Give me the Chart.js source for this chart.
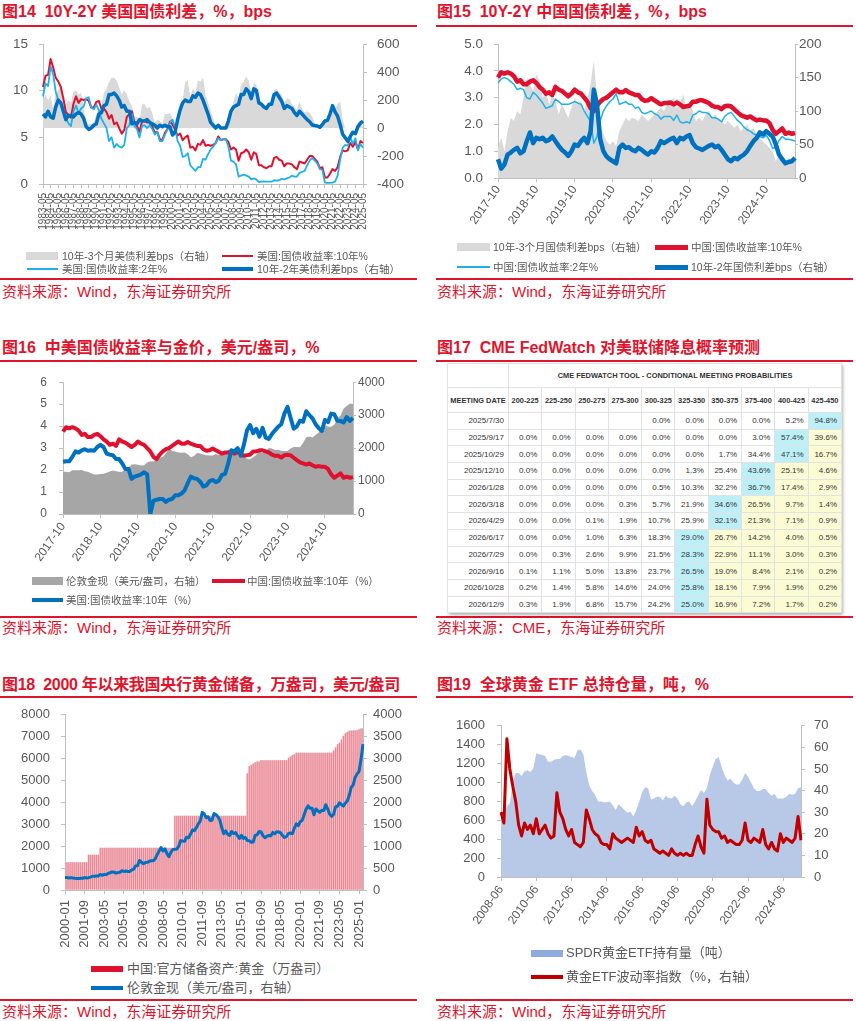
<!DOCTYPE html>
<html>
<head>
<meta charset="utf-8">
<script src="https://cdn.jsdelivr.net/npm/chart.js@4.4.1/dist/chart.umd.min.js"></script>
<style>
body { margin:0; background:#fff; width:856px; height:1021px; position:relative; overflow:hidden;
  font-family:"Liberation Sans", Arial, "Noto Sans CJK SC", sans-serif; }
.title { position:absolute; font-weight:bold; color:#e1142d; font-size:16px; line-height:16px; white-space:pre; }
.rule { position:absolute; height:2px; background:#e1142d; }
.src { position:absolute; color:#e1142d; font-size:15px; line-height:15px; white-space:nowrap; }
canvas { position:absolute; }
.lg { position:absolute; font-size:10.5px; line-height:12px; color:#595959; white-space:nowrap; }
.lg.big { font-size:13px; line-height:14px; }
.sw { position:absolute; }
#fw { position:absolute; left:447px; top:363px; width:394px; box-shadow:2px 2px 3px rgba(0,0,0,0.3); background:#fff; }
#fw table { border-collapse:collapse; table-layout:fixed; width:394px; color:#333; }
#fw td { border:1px solid #e2e2e2; padding:0 4px 0 0; text-align:right; font-size:8px; height:15.7px; white-space:nowrap; overflow:hidden; }
#fw td.h { font-weight:bold; text-align:center; font-size:7.4px; padding:0; }
#fw td.blue { background:#bdeff9; }
#fw td.yel { background:#fbfbd4; }
</style>
</head>
<body>

<div class="title" style="left:2px;top:4px">图14  10Y-2Y 美国国债利差，%，bps</div>
<div class="rule" style="left:0;top:25px;width:417px"></div>
<div class="title" style="left:437px;top:4px">图15  10Y-2Y 中国国债利差，%，bps</div>
<div class="rule" style="left:436px;top:25px;width:417px"></div>
<div class="rule" style="left:0;top:278px;width:417px"></div>
<div class="rule" style="left:436px;top:278px;width:417px"></div>
<div class="src" style="left:2px;top:284px">资料来源：Wind，东海证券研究所</div>
<div class="src" style="left:437px;top:284px">资料来源：Wind，东海证券研究所</div>

<div class="title" style="left:2px;top:340px">图16  中美国债收益率与金价，美元/盎司，%</div>
<div class="rule" style="left:0;top:360px;width:417px"></div>
<div class="title" style="left:437px;top:340px">图17  CME FedWatch 对美联储降息概率预测</div>
<div class="rule" style="left:436px;top:360px;width:417px"></div>
<div class="rule" style="left:0;top:616px;width:417px"></div>
<div class="rule" style="left:436px;top:616px;width:417px"></div>
<div class="src" style="left:2px;top:620px">资料来源：Wind，东海证券研究所</div>
<div class="src" style="left:437px;top:620px">资料来源：CME，东海证券研究所</div>

<div class="title" style="left:2px;top:677px;letter-spacing:-0.3px">图18  2000 年以来我国央行黄金储备，万盎司，美元/盎司</div>
<div class="rule" style="left:0;top:696px;width:417px"></div>
<div class="title" style="left:437px;top:677px">图19  全球黄金 ETF 总持仓量，吨，%</div>
<div class="rule" style="left:436px;top:696px;width:417px"></div>
<div class="rule" style="left:0;top:999px;width:417px"></div>
<div class="rule" style="left:436px;top:999px;width:417px"></div>
<div class="src" style="left:2px;top:1004px">资料来源：Wind，东海证券研究所</div>
<div class="src" style="left:437px;top:1004px">资料来源：Wind，东海证券研究所</div>

<canvas id="c14" width="405" height="222" style="left:0;top:25px;width:405px;height:222px"></canvas>
<canvas id="c15" width="400" height="215" style="left:437px;top:25px;width:400px;height:215px"></canvas>
<canvas id="c16" width="400" height="215" style="left:0;top:363px;width:400px;height:215px"></canvas>
<canvas id="c18" width="410" height="260" style="left:0;top:696px;width:410px;height:260px"></canvas>
<canvas id="c19" width="410" height="240" style="left:437px;top:706px;width:410px;height:240px"></canvas>

<div id="fw"></div>

<!-- legends -->
<div class="sw" style="left:26px;top:252px;width:32px;height:8px;background:#d9d9d9"></div>
<div class="lg" style="left:62px;top:250px">10年-3个月美债利差bps（右轴）</div>
<div class="sw" style="left:222px;top:255px;width:31px;height:2px;background:#e0102f"></div>
<div class="lg" style="left:257px;top:250px">美国:国债收益率:10年%</div>
<div class="sw" style="left:27px;top:268px;width:31px;height:1.5px;background:#1fb1ec"></div>
<div class="lg" style="left:62px;top:263px">美国:国债收益率:2年%</div>
<div class="sw" style="left:222px;top:267px;width:31px;height:4px;background:#0070c0"></div>
<div class="lg" style="left:257px;top:263px">10年-2年美债利差bps（右轴）</div>

<div class="sw" style="left:457px;top:243px;width:33px;height:8px;background:#d9d9d9"></div>
<div class="lg" style="left:493px;top:241px">10年-3个月国债利差bps（右轴）</div>
<div class="sw" style="left:655px;top:244.5px;width:33px;height:5px;background:#e0102f"></div>
<div class="lg" style="left:691px;top:241px">中国:国债收益率:10年%</div>
<div class="sw" style="left:457px;top:266px;width:33px;height:1.5px;background:#1fb1ec"></div>
<div class="lg" style="left:493px;top:261px">中国:国债收益率:2年%</div>
<div class="sw" style="left:655px;top:264.5px;width:33px;height:5px;background:#0070c0"></div>
<div class="lg" style="left:691px;top:261px">10年-2年国债利差bps（右轴）</div>

<div class="sw" style="left:32px;top:577px;width:31px;height:8px;background:#a6a6a6"></div>
<div class="lg" style="left:66px;top:575px">伦敦金现（美元/盎司，右轴）</div>
<div class="sw" style="left:212px;top:578.5px;width:33px;height:4.5px;background:#e0102f"></div>
<div class="lg" style="left:247px;top:575px">中国:国债收益率:10年（%）</div>
<div class="sw" style="left:32px;top:597.5px;width:31px;height:4.5px;background:#0070c0"></div>
<div class="lg" style="left:66px;top:594px">美国:国债收益率:10年（%）</div>

<div class="sw" style="left:91px;top:966px;width:32px;height:6px;background:#e0102f"></div>
<div class="lg big" style="left:127px;top:962px">中国:官方储备资产:黄金（万盎司）</div>
<div class="sw" style="left:91px;top:986px;width:32px;height:4px;background:#0070c0"></div>
<div class="lg big" style="left:127px;top:981px">伦敦金现（美元/盎司，右轴）</div>

<div class="sw" style="left:531px;top:949.5px;width:32px;height:7px;background:#8faadc"></div>
<div class="lg big" style="left:566px;top:946px">SPDR黄金ETF持有量（吨）</div>
<div class="sw" style="left:531px;top:975px;width:32px;height:4px;background:#c00000"></div>
<div class="lg big" style="left:566px;top:970px">黄金ETF波动率指数（%，右轴）</div>

<script>
// ---------- 图14 data: every 4 months from 1983-05 ----------
var us10y = [
  10.4, 11.6,
  11.7, 13.4, 12.5,  11.4, 11.0, 10.4,  9.2, 7.7, 7.4,  7.1, 8.6, 9.4,  8.7, 9.1, 9.0,
  9.1, 8.9, 8.2,  8.2, 8.8, 8.9,  8.1, 8.1, 7.7,  7.0, 7.4, 6.4,  6.6, 6.0, 5.4,
  5.8, 7.2, 7.5,  7.8, 6.6, 6.2,  5.6, 6.7, 6.8,  6.6, 6.7, 6.2,  5.5, 5.6, 4.8,
  4.7, 5.5, 5.9,  6.7, 6.4, 5.8,  5.2, 5.4, 4.7,  5.0, 5.2, 3.9,  4.0, 3.6, 4.3,
  4.2, 4.7, 4.1,  4.2, 4.1, 4.2,  4.4, 5.1, 4.7,  4.8, 4.8, 4.5,  3.7, 3.9, 3.7,
  2.5, 3.3, 3.4,  3.7, 3.4, 2.6,  3.4, 3.2, 2.0,  2.0, 1.8, 1.7,  1.9, 1.9, 2.8,
  2.9, 2.6, 2.5,  1.9, 2.2, 2.2,  2.1, 1.8, 1.6,  2.4, 2.3, 2.2,  2.6, 3.0, 3.0,
  2.7, 2.4, 1.7,  1.8, 0.7, 0.7,  1.1, 1.6, 1.4,  1.8, 2.9, 3.6,  3.5, 3.6, 4.4,
  4.0, 4.5, 3.7,  4.6, 4.4
];
var us2y = [
  9.4, 10.8,
  10.5, 12.6, 11.8,  9.9, 9.0, 8.6,  8.0, 7.1, 6.5,  6.2, 7.8, 8.4,  7.6, 8.1, 8.3,
  9.2, 9.3, 8.2,  8.0, 8.5, 7.9,  7.0, 6.5, 6.0,  4.6, 5.0, 3.9,  4.3, 4.0, 3.9,
  4.2, 6.0, 6.3,  7.5, 6.2, 5.9,  5.0, 6.2, 6.3,  6.0, 6.3, 5.9,  5.3, 5.6, 4.6,
  4.6, 5.3, 5.8,  6.6, 6.9, 6.1,  4.6, 4.1, 2.9,  3.0, 3.3, 2.0,  1.7, 1.4, 1.8,
  1.8, 2.7, 2.6,  3.2, 3.7, 4.0,  4.4, 4.9, 4.7,  4.8, 4.8, 4.0,  2.5, 2.4, 2.1,
  0.8, 0.9, 1.0,  0.9, 0.8, 0.5,  0.6, 0.5, 0.2,  0.25, 0.28, 0.26,  0.26, 0.25, 0.4,
  0.37, 0.4, 0.55,  0.5, 0.6, 0.7,  0.9, 0.8, 0.8,  1.2, 1.3, 1.4,  2.0, 2.5, 2.8,
  2.5, 2.2, 1.6,  1.5, 0.16, 0.13,  0.12, 0.15, 0.25,  0.9, 2.6, 3.9,  4.2, 4.1, 5.0,
  4.3, 4.9, 3.6,  4.3, 3.9
];
var us10y2ySpread = [
  100, 80,
  120, 80, 70,  150, 200, 180,  120, 60, 90,  90, 80, 100,  110, 100, 70,
  10, -10, 0,  20, 30, 100,  110, 160, 170,  240, 240, 250,  230, 200, 150,
  160, 120, 120,  30, 40, 30,  60, 50, 50,  60, 40, 30,  20, 0, 20,
  10, 20, 10,  10, -50, -30,  60, 130, 180,  200, 190, 190,  230, 220, 250,
  240, 200, 150,  100, 40, 20,  0, 20, 0,  0, 0, 50,  120, 150, 160,
  170, 240, 240,  280, 260, 210,  280, 270, 180,  170, 150, 140,  170, 170, 240,
  250, 220, 190,  140, 160, 150,  140, 110, 90,  120, 100, 80,  60, 45, 22,
  18, 15, 5,  25, 50, 55,  100, 160, 115,  85, 25, -45,  -70, -95, -60,
  -30, -40, 10,  35, 50
];
var us10y3mSpread = [
  200, 240,
  200, 230, 140,  250, 270, 300,  200, 170, 200,  180, 260, 270,  240, 250, 140,
  40, 30, 30,  40, 100, 130,  160, 250, 280,  330, 360, 360,  340, 290, 240,
  270, 240, 190,  160, 80, 80,  60, 170, 170,  140, 150, 110,  40, 60, 50,
  30, 100, 100,  110, 70, 0,  20, 170, 200,  330, 340, 220,  280, 250, 340,
  330, 360, 240,  180, 120, 70,  0, 20, 0,  0, 0, 60,  80, 190, 250,
  220, 310, 330,  370, 340, 250,  320, 310, 200,  190, 170, 160,  180, 180, 270,
  280, 250, 240,  180, 210, 210,  170, 150, 130,  190, 140, 110,  120, 110, 80,
  30, 0, 0,  30, 60, 60,  110, 160, 140,  170, 190, 60,  0, 0, 0,
  0, 0, 0,  40, 10
];

// ---------- 图15 / 图16 data: monthly from 2017-10 ----------
var cn10y = [
  3.75, 3.95, 3.9,
  3.95, 3.9, 3.8, 3.6, 3.65, 3.5, 3.5, 3.6, 3.65, 3.55, 3.4, 3.3,
  3.15, 3.2, 3.1, 3.4, 3.3, 3.25, 3.15, 3.05, 3.15, 3.3, 3.2, 3.15,
  3.0, 2.85, 2.6, 2.5, 2.7, 2.85, 2.95, 3.0, 3.1, 3.2, 3.3, 3.2,
  3.2, 3.28, 3.2, 3.15, 3.1, 3.1, 2.95, 2.88, 2.9, 2.98, 2.9, 2.82,
  2.75, 2.8, 2.8, 2.82, 2.75, 2.82, 2.75, 2.65, 2.68, 2.7, 2.85, 2.85,
  2.9, 2.9, 2.85, 2.8, 2.7, 2.65, 2.65, 2.57, 2.68, 2.7, 2.67, 2.56,
  2.45, 2.35, 2.3, 2.25, 2.3, 2.22, 2.15, 2.18, 2.15, 2.15, 2.05, 1.8,
  1.65, 1.75, 1.85, 1.65, 1.7, 1.65, 1.68
];
var cn2y = [
  3.55, 3.7, 3.75,
  3.7, 3.6, 3.5, 3.3, 3.35, 3.3, 3.0, 2.95, 3.2, 3.1, 2.95, 2.8,
  2.6, 2.65, 2.7, 2.95, 2.85, 2.75, 2.75, 2.75, 2.8, 2.85, 2.8, 2.75,
  2.5, 2.3, 2.1, 1.3, 1.55, 2.15, 2.5, 2.7, 2.85, 2.95, 3.15, 2.75,
  2.8, 2.85, 2.75, 2.75, 2.6, 2.65, 2.45, 2.4, 2.45, 2.5, 2.4, 2.35,
  2.2, 2.3, 2.3, 2.3, 2.15, 2.35, 2.1, 2.05, 2.1, 2.05, 2.35, 2.4,
  2.5, 2.45, 2.45, 2.4, 2.25, 2.25, 2.2, 2.1, 2.3, 2.4, 2.45, 2.3,
  2.15, 2.05, 1.9, 1.8, 1.75, 1.65, 1.6, 1.55, 1.5, 1.6, 1.4, 1.1,
  1.15, 1.4, 1.55, 1.45, 1.45, 1.42, 1.38
];
var cn10y2ySpread = [
  28, 14, 20,
  35, 38, 42, 45, 37, 40, 55, 68, 52, 60, 58, 60,
  55, 57, 62, 55, 48, 42, 38, 33, 40, 50, 48, 55,
  60, 52, 70, 132, 110, 58, 40, 32, 28, 25, 22, 45,
  50, 45, 46, 42, 40, 45, 42, 38, 35, 40, 38, 45,
  55, 52, 55, 58, 60, 52, 60, 58, 62, 64, 52, 46,
  44, 42, 45, 48, 50, 46, 48, 42, 35, 28, 25, 30,
  28, 32, 35, 40, 48, 55, 60, 68, 65, 70, 66, 62,
  50, 35, 28, 22, 24, 25, 30
];
var cn10y3mSpread = [
  45, 60, 40,
  70, 90, 85, 100, 95, 120, 150, 140, 130, 155, 145, 120,
  130, 110, 125, 115, 95, 110, 100, 90, 105, 120, 110, 115,
  100, 120, 140, 175, 120, 80, 65, 55, 50, 55, 48, 70,
  80, 90, 85, 90, 88, 85, 95, 90, 85, 90, 95, 100,
  105, 100, 110, 115, 120, 105, 110, 125, 105, 110, 100, 85,
  90, 85, 95, 100, 90, 95, 88, 85, 80, 85, 80, 75,
  80, 70, 75, 80, 70, 75, 65, 60, 55, 50, 45, 40,
  25, 35, 30, 20, 30, 28, 30
];
var us10yM = [
  2.38, 2.4, 2.4,
  2.6, 2.85, 2.8, 2.9, 2.95, 2.88, 2.9, 2.88, 3.05, 3.15, 3.05, 2.75,
  2.7, 2.68, 2.5, 2.5, 2.3, 2.05, 2.05, 1.6, 1.7, 1.75, 1.8, 1.9,
  1.8, 0, 0.6, 0.65, 0.68, 0.68, 0.55, 0.65, 0.68, 0.85, 0.85, 0.93,
  1.08, 1.4, 1.7, 1.63, 1.6, 1.47, 1.25, 1.3, 1.5, 1.55, 1.45, 1.52,
  1.78, 1.83, 2.32, 2.9, 2.85, 3.0, 2.65, 3.15, 3.8, 4.05, 3.68, 3.88,
  3.52, 3.92, 3.48, 3.42, 3.64, 3.81, 3.97, 4.09, 4.57, 4.88, 4.37, 3.88,
  3.99, 4.25, 4.2, 4.68, 4.5, 4.36, 4.09, 3.91, 3.78, 4.28, 4.18, 4.57,
  4.54, 4.24, 4.23, 4.17, 4.41, 4.24, 4.37
];
var goldM = [
  1280, 1280, 1265,
  1330, 1330, 1325, 1335, 1300, 1280, 1240, 1200, 1195, 1215, 1220, 1250,
  1290, 1320, 1300, 1285, 1285, 1360, 1415, 1500, 1510, 1495, 1470, 1480,
  1560, 1600, 1590, 1680, 1715, 1730, 1840, 1970, 1920, 1900, 1865, 1860,
  1865, 1810, 1720, 1760, 1850, 1835, 1805, 1785, 1775, 1775, 1820, 1790,
  1815, 1855, 1950, 1940, 1850, 1835, 1730, 1765, 1680, 1665, 1725, 1800,
  1900, 1855, 1910, 2000, 1990, 1940, 1950, 1920, 1915, 1915, 1985, 2030,
  2035, 2025, 2160, 2330, 2350, 2325, 2400, 2470, 2570, 2690, 2650, 2650,
  2710, 2900, 2980, 3200, 3280, 3350, 3340
];

// ---------- 图17 data ----------
var meetingDates = ['2025/7/30','2025/9/17','2025/10/29','2025/12/10','2026/1/28','2026/3/18',
  '2026/4/29','2026/6/17','2026/7/29','2026/9/16','2026/10/28','2026/12/9'];
var rateBuckets = ['200-225','225-250','250-275','275-300','300-325','325-350','350-375','375-400','400-425','425-450'];
var fedProbs = [
  [null, null, null, null, 0.0, 0.0, 0.0, 0.0, 5.2, 94.8],
  [0.0, 0.0, 0.0, 0.0, 0.0, 0.0, 0.0, 3.0, 57.4, 39.6],
  [0.0, 0.0, 0.0, 0.0, 0.0, 0.0, 1.7, 34.4, 47.1, 16.7],
  [0.0, 0.0, 0.0, 0.0, 0.0, 1.3, 25.4, 43.6, 25.1, 4.6],
  [0.0, 0.0, 0.0, 0.0, 0.5, 10.3, 32.2, 36.7, 17.4, 2.9],
  [0.0, 0.0, 0.0, 0.3, 5.7, 21.9, 34.6, 26.5, 9.7, 1.4],
  [0.0, 0.0, 0.1, 1.9, 10.7, 25.9, 32.1, 21.3, 7.1, 0.9],
  [0.0, 0.0, 1.0, 6.3, 18.3, 29.0, 26.7, 14.2, 4.0, 0.5],
  [0.0, 0.3, 2.6, 9.9, 21.5, 28.3, 22.9, 11.1, 3.0, 0.3],
  [0.1, 1.1, 5.0, 13.8, 23.7, 26.5, 19.0, 8.4, 2.1, 0.2],
  [0.2, 1.4, 5.8, 14.6, 24.0, 25.8, 18.1, 7.9, 1.9, 0.2],
  [0.3, 1.9, 6.8, 15.7, 24.2, 25.0, 16.9, 7.2, 1.7, 0.2]
];

// ---------- 图18 data: every 2 months from 2000-01 ----------
var cnGoldReserve = [
  1267, 1267, 1267, 1267, 1267, 1267,
  1267, 1267, 1267, 1267, 1267, 1267,
  1608, 1608, 1608, 1608, 1608, 1608,
  1929, 1929, 1929, 1929, 1929, 1929,
  1929, 1929, 1929, 1929, 1929, 1929,
  1929, 1929, 1929, 1929, 1929, 1929,
  1929, 1929, 1929, 1929, 1929, 1929,
  1929, 1929, 1929, 1929, 1929, 1929,
  1929, 1929, 1929, 1929, 1929, 1929,
  1929, 1929, 3389, 3389, 3389, 3389,
  3389, 3389, 3389, 3389, 3389, 3389,
  3389, 3389, 3389, 3389, 3389, 3389,
  3389, 3389, 3389, 3389, 3389, 3389,
  3389, 3389, 3389, 3389, 3389, 3389,
  3389, 3389, 3389, 3389, 3389, 3389,
  3389, 3389, 3389, 5332, 5666, 5722,
  5778, 5828, 5862, 5862, 5924, 5924,
  5924, 5924, 5924, 5924, 5924, 5924,
  5924, 5924, 5924, 5924, 5924, 5924,
  6036, 6092, 6161, 6194, 6264, 6264,
  6264, 6264, 6264, 6264, 6264, 6264,
  6264, 6264, 6264, 6264, 6264, 6264,
  6264, 6264, 6264, 6264, 6264, 6367,
  6512, 6650, 6727, 6869, 7046, 7158,
  7219, 7274, 7280, 7280, 7280, 7296,
  7345, 7370, 7383
];
var londonGold = [
  285, 285, 275, 282, 273, 266,
  265, 263, 268, 267, 283, 276,
  282, 294, 314, 313, 319, 319,
  356, 336, 355, 351, 378, 393,
  414, 407, 384, 398, 405, 439,
  424, 434, 422, 424, 456, 476,
  549, 557, 675, 633, 598, 628,
  631, 655, 667, 665, 712, 806,
  889, 968, 889, 939, 829, 760,
  858, 924, 928, 934, 996, 1128,
  1117, 1113, 1205, 1193, 1271, 1370,
  1356, 1424, 1510, 1572, 1772, 1739,
  1652, 1673, 1587, 1594, 1744, 1722,
  1670, 1593, 1414, 1286, 1349, 1275,
  1244, 1337, 1288, 1311, 1239, 1176,
  1251, 1179, 1199, 1130, 1125, 1087,
  1097, 1246, 1260, 1337, 1326, 1238,
  1192, 1231, 1246, 1236, 1314, 1282,
  1331, 1325, 1303, 1239, 1198, 1221,
  1291, 1300, 1284, 1414, 1511, 1470,
  1560, 1591, 1716, 1847, 1921, 1866,
  1867, 1718, 1850, 1807, 1775, 1821,
  1817, 1948, 1848, 1732, 1681, 1726,
  1898, 1912, 1992, 1951, 1916, 1985,
  2034, 2163, 2348, 2399, 2571, 2651,
  2709, 2983, 3330
];

// ---------- 图19 data: every 2 months from 2008-06 ----------
var spdrHolding = [
  700, 680, 750, 780,
  1000, 1100, 1100, 1070, 1120, 1130,
  1110, 1150, 1310, 1300, 1290, 1280,
  1220, 1220, 1240, 1250, 1250, 1280,
  1290, 1280, 1270, 1260, 1340, 1350,
  1300, 1110, 970, 910, 870, 800,
  800, 790, 790, 800, 760, 710,
  770, 740, 710, 680, 690, 640,
  710, 800, 900, 950, 940, 820,
  830, 850, 850, 810, 860, 835,
  830, 860, 830, 770, 750, 790,
  800, 750, 800, 860, 920, 890,
  940, 1080, 1170, 1250, 1270, 1170,
  1080, 1020, 1040, 1000, 980, 980,
  1030, 1100, 1060, 1000, 940, 910,
  910, 930, 930, 890, 860, 880,
  830, 830, 830, 850, 880, 870,
  880, 940, 950
];
var goldEtfVol = [
  30, 25, 64, 50,
  42, 35, 24, 19, 25, 22,
  24, 20, 27, 20, 22, 24,
  20, 18, 19, 39, 30, 27,
  22, 19, 22, 16, 15, 14,
  16, 31, 27, 22, 20, 19,
  16, 15, 15, 13, 20, 18,
  17, 16, 17, 18, 17, 16,
  23, 19, 21, 17, 16, 17,
  13, 12, 11, 12, 11, 10,
  13, 11, 10, 11, 10, 11,
  10, 10, 15, 19, 14, 11,
  36, 24, 22, 21, 21, 18,
  19, 16, 17, 16, 15, 15,
  17, 25, 17, 16, 18, 17,
  16, 22, 15, 13, 16, 13,
  12, 20, 16, 18, 17, 16,
  18, 28, 17
];

// category labels
function monthSeq(y, m, n, step) {
  var out = [];
  for (var i = 0; i < n; i++) {
    var t = (m - 1) + i * step;
    var mm = t % 12 + 1;
    out.push((y + Math.floor(t / 12)) + '-' + (mm < 10 ? '0' : '') + mm);
  }
  return out;
}
var dates14 = monthSeq(1983, 5, us10y.length, 4);
var datesM = monthSeq(2017, 10, cn10y.length, 1);
var dates18 = monthSeq(2000, 1, londonGold.length, 2);
var dates19 = monthSeq(2008, 6, spdrHolding.length, 2);

Chart.defaults.font.family = '"Liberation Sans", Arial, sans-serif';
Chart.defaults.color = '#595959';

var AXIS = '#bfbfbf';
function yAxis(pos, min, max, step, w, tick, pad, size, fmt) {
  return {
    position: pos, min: min, max: max,
    ticks: { stepSize: step, padding: pad, font: { size: size }, color: '#595959',
      callback: fmt || function (v) { return String(v); } },
    grid: { drawOnChartArea: false, drawTicks: true, tickLength: tick, color: AXIS },
    border: { display: true, color: AXIS },
    afterFit: function (s) { s.width = w; }
  };
}
function xAxis(every, rot, h, pad, size) {
  return {
    offset: false,
    ticks: { autoSkip: false, maxRotation: rot, minRotation: rot, padding: pad, font: { size: size }, color: '#595959',
      callback: function (v, i) { return i % every === 0 ? this.getLabelForValue(v) : null; } },
    grid: { drawOnChartArea: false, drawTicks: true, tickLength: 4, color: AXIS, offset: false },
    border: { display: true, color: AXIS },
    afterFit: function (s) { s.height = h; }
  };
}
function line(data, color, width, axis, order) {
  return { type: 'line', data: data, borderColor: color, borderWidth: width, pointRadius: 0, tension: 0,
    fill: false, yAxisID: axis, order: order, borderJoinStyle: 'round' };
}
function area(data, color, axis, order) {
  return { type: 'line', data: data, borderWidth: 0, borderColor: color, backgroundColor: color,
    pointRadius: 0, tension: 0, fill: 'origin', yAxisID: axis, order: order };
}
function makeChart(id, labels, datasets, scales, padTop) {
  return new Chart(document.getElementById(id), {
    type: 'line',
    data: { labels: labels, datasets: datasets },
    options: {
      responsive: false, animation: false, events: [],
      layout: { padding: { top: padTop, left: 0, right: 0, bottom: 0 } },
      plugins: { legend: { display: false }, tooltip: { enabled: false } },
      scales: scales
    }
  });
}

// 图14
makeChart('c14', dates14, [
  line(us10y2ySpread, '#0070c0', 3.5, 'y2', 0),
  line(us2y, '#1fb1ec', 1.8, 'y', 1),
  line(us10y, '#e0102f', 2, 'y', 2),
  area(us10y3mSpread, '#d9d9d9', 'y2', 3)
], {
  x: xAxis(3, 90, 63, 5, 10),
  y: yAxis('left', 0, 15, 5, 43, 4, 11, 13.5),
  y2: yAxis('right', -400, 600, 200, 42, 4, 10, 13.5)
}, 8);

// 图15
makeChart('c15', datesM, [
  line(cn10y2ySpread, '#0070c0', 4.5, 'y2', 0),
  line(cn2y, '#1fb1ec', 1.5, 'y', 1),
  line(cn10y, '#e0102f', 4.5, 'y', 2),
  area(cn10y3mSpread, '#d9d9d9', 'y2', 3)
], {
  x: xAxis(12, 55, 62, 1, 12),
  y: yAxis('left', 0, 5, 1, 61, 4, 11, 13.5, function (v) { return v.toFixed(1); }),
  y2: yAxis('right', 0, 200, 50, 42, 3, 1, 13.5)
}, 8);

// 图16
makeChart('c16', datesM, [
  line(us10yM, '#0070c0', 4, 'y', 0),
  line(cn10y, '#e0102f', 4, 'y', 1),
  area(goldM, '#a6a6a6', 'y2', 2)
], {
  x: xAxis(12, 55, 64, 2, 12),
  y: yAxis('left', 0, 6, 1, 63, 4, 12, 12),
  y2: yAxis('right', 0, 4000, 500, 47, 3, 2, 12)
}, 10);

// 图18
var resBars = { type: 'bar', data: cnGoldReserve, backgroundColor: '#e88794', borderWidth: 0,
  barPercentage: 0.6, categoryPercentage: 1, yAxisID: 'y', order: 2 };
var resBack = { type: 'line', data: cnGoldReserve, stepped: 'middle', borderWidth: 0, borderColor: '#f6c8ce',
  backgroundColor: '#f6c8ce', pointRadius: 0, fill: 'origin', yAxisID: 'y', order: 3 };
makeChart('c18', dates18, [
  line(londonGold, '#0070c0', 3, 'y2', 0),
  resBars,
  resBack
], {
  x: xAxis(10, 90, 66, 6, 13),
  y: yAxis('left', 0, 8000, 1000, 65, 4, 11, 13),
  y2: yAxis('right', 0, 4000, 500, 47, 4, 6, 13)
}, 10);

// 图19
makeChart('c19', dates19, [
  line(goldEtfVol, '#c00000', 3, 'y2', 0),
  area(spdrHolding, '#b8c9e8', 'y', 1)
], {
  x: xAxis(12, 55, 69, 2, 12),
  y: yAxis('left', 0, 1600, 200, 64, 4, 12, 13),
  y2: yAxis('right', 0, 70, 10, 46, 4, 9, 13)
}, 12);

// 图17 table
(function () {
  var h = '<table><colgroup><col style="width:61px">';
  for (var c = 0; c < rateBuckets.length; c++) h += '<col style="width:33.3px">';
  h += '</colgroup>';
  h += '<tr><td class="h" style="height:23px"></td><td class="h" colspan="' + rateBuckets.length +
       '">CME FEDWATCH TOOL - CONDITIONAL MEETING PROBABILITIES</td></tr>';
  h += '<tr><td class="h" style="height:24px">MEETING DATE</td>';
  for (c = 0; c < rateBuckets.length; c++) h += '<td class="h">' + rateBuckets[c] + '</td>';
  h += '</tr>';
  for (var r = 0; r < meetingDates.length; r++) {
    var row = fedProbs[r], best = 0;
    for (c = 0; c < row.length; c++) if (row[c] !== null && row[c] > row[best]) best = c;
    h += '<tr><td>' + meetingDates[r] + '</td>';
    for (c = 0; c < row.length; c++) {
      var cls = c === best ? 'blue' : (c > best ? 'yel' : '');
      h += '<td class="' + cls + '">' + (row[c] === null ? '' : row[c].toFixed(1) + '%') + '</td>';
    }
    h += '</tr>';
  }
  h += '</table>';
  document.getElementById('fw').innerHTML = h;
})();
</script>
</body>
</html>
